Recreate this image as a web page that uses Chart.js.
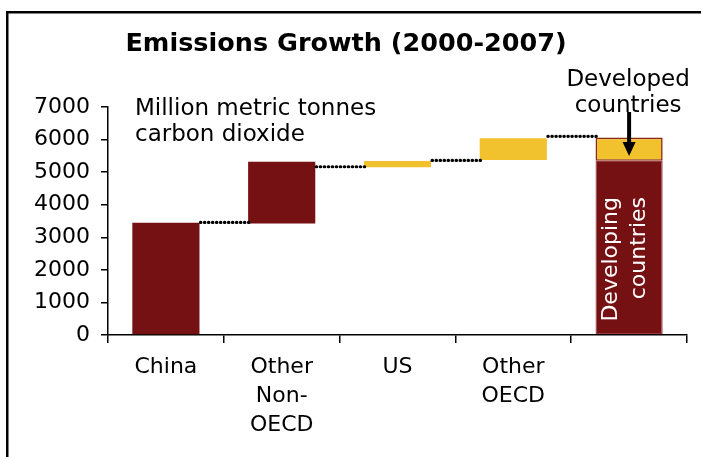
<!DOCTYPE html>
<html>
<head>
<meta charset="utf-8">
<script src="https://cdn.jsdelivr.net/npm/chart.js@4/dist/chart.umd.min.js"></script>
<style>
  html, body { margin: 0; padding: 0; background: #ffffff; }
  #wrap { width: 701px; height: 457px; position: relative; }
</style>
</head>
<body>
<div id="wrap"><canvas id="chart" width="701" height="457"></canvas></div>
<script>
// Waterfall of CO2 emissions growth, million metric tonnes
const categories = ['China', ['Other', 'Non-', 'OECD'], 'US', ['Other', 'OECD'], ''];
// floating [start, end] steps of the waterfall
const growthSteps = [[0, 3450], [3420, 5320], [5150, 5340], [5370, 6040], null];
// total column split into developing / developed
const developingPart = [null, null, null, null, [0, 5350]];
const developedPart = [null, null, null, null, [5350, 6060]];
// dotted running-total links between neighbouring columns
const connectorLevels = [3455, 5165, 5360, 6100];
const yTickValues = [0, 1000, 2000, 3000, 4000, 5000, 6000, 7000];

const DARK_RED = '#761113';
const GOLD = '#F2C12E';
const FONT = "'DejaVu Sans', Verdana, sans-serif";
const stepColors = [DARK_RED, DARK_RED, GOLD, GOLD, DARK_RED];

function barFor(chart, index) {
  for (let d = 0; d < chart.data.datasets.length; d++) {
    const v = chart.data.datasets[d].data[index];
    if (v) return chart.getDatasetMeta(d).data[index];
  }
  return null;
}

const decorations = {
  id: 'decorations',
  afterDatasetsDraw(chart) {
    const ctx = chart.ctx;
    const y = chart.scales.y;
    ctx.save();
    ctx.strokeStyle = '#000';
    ctx.lineWidth = 3.2;
    ctx.lineCap = 'round';
    ctx.setLineDash([0.4, 3.6]);
    connectorLevels.forEach((level, i) => {
      const a = barFor(chart, i);
      const b = barFor(chart, i + 1);
      if (!a || !b) return;
      const py = y.getPixelForValue(level);
      ctx.beginPath();
      ctx.moveTo(a.x + a.width / 2 + 1, py);
      ctx.lineTo(b.x - b.width / 2 + 2, py);
      ctx.stroke();
    });
    ctx.restore();
  },
  afterDraw(chart) {
    const ctx = chart.ctx;
    ctx.save();
    // outer frame (left and top edges)
    ctx.fillStyle = '#000';
    ctx.fillRect(6, 11, 2.5, 446);
    ctx.fillRect(6, 11, 695, 2.5);

    // title
    ctx.fillStyle = '#000';
    ctx.font = `bold 25.5px ${FONT}`;
    ctx.textAlign = 'center';
    ctx.textBaseline = 'middle';
    ctx.fillText('Emissions Growth (2000-2007)', 346, 44);

    // unit note
    ctx.font = `23px ${FONT}`;
    ctx.textAlign = 'left';
    ctx.textBaseline = 'alphabetic';
    ctx.fillText('Million metric tonnes', 135, 115);
    ctx.fillText('carbon dioxide', 135, 141);

    // developed countries callout with arrow
    const last = barFor(chart, 4);
    const cx = last.x;
    ctx.textAlign = 'center';
    ctx.fillText('Developed', cx - 1, 86);
    ctx.fillText('countries', cx - 1, 112);
    ctx.strokeStyle = '#000';
    ctx.lineWidth = 4;
    ctx.beginPath();
    ctx.moveTo(cx, 112);
    ctx.lineTo(cx, 144);
    ctx.stroke();
    ctx.beginPath();
    ctx.moveTo(cx - 6.5, 142);
    ctx.lineTo(cx + 6.5, 142);
    ctx.lineTo(cx, 156);
    ctx.closePath();
    ctx.fill();

    // rotated label inside the developing part
    ctx.translate(cx, 197);
    ctx.rotate(-Math.PI / 2);
    ctx.fillStyle = '#ffffff';
    ctx.font = `22px ${FONT}`;
    ctx.textAlign = 'right';
    ctx.textBaseline = 'middle';
    ctx.fillText('Developing', 0, -18);
    ctx.fillText('countries', 0, 10);
    ctx.restore();
  }
};

new Chart(document.getElementById('chart'), {
  type: 'bar',
  data: {
    labels: categories,
    datasets: [
      {
        label: 'Growth',
        data: growthSteps,
        backgroundColor: stepColors,
        borderWidth: 0
      },
      {
        label: 'Developing countries',
        data: developingPart,
        backgroundColor: DARK_RED,
        borderColor: '#9A3A3C',
        borderWidth: 1.2
      },
      {
        label: 'Developed countries',
        data: developedPart,
        backgroundColor: GOLD,
        borderColor: '#8A2A14',
        borderWidth: 1.6
      }
    ]
  },
  options: {
    responsive: false,
    animation: false,
    devicePixelRatio: 1,
    layout: { padding: { left: 0, right: 14, top: 107, bottom: 0 } },
    datasets: {
      bar: { barPercentage: 0.58, categoryPercentage: 1, grouped: false, borderSkipped: false }
    },
    plugins: {
      legend: { display: false },
      tooltip: { enabled: false },
      title: { display: false }
    },
    scales: {
      x: {
        offset: true,
        grid: { offset: true, drawOnChartArea: false, color: '#000', tickLength: 8, lineWidth: 1.5 },
        border: { color: '#000', width: 1.5 },
        ticks: {
          color: '#000',
          font: { family: FONT, size: 22, lineHeight: 1.32 },
          padding: 10,
          maxRotation: 0,
          autoSkip: false
        },
        afterFit(scale) { scale.height = 122; }
      },
      y: {
        min: 0,
        max: 7000,
        afterBuildTicks(scale) { scale.ticks = yTickValues.map(v => ({ value: v })); },
        grid: { drawOnChartArea: false, color: '#000', tickLength: 7, lineWidth: 1.5 },
        border: { color: '#000', width: 1.5 },
        ticks: {
          color: '#000',
          font: { family: FONT, size: 22 },
          padding: 11,
          callback: (value) => String(value)
        },
        afterFit(scale) { scale.width = 108; }
      }
    }
  },
  plugins: [decorations]
});
</script>
</body>
</html>
